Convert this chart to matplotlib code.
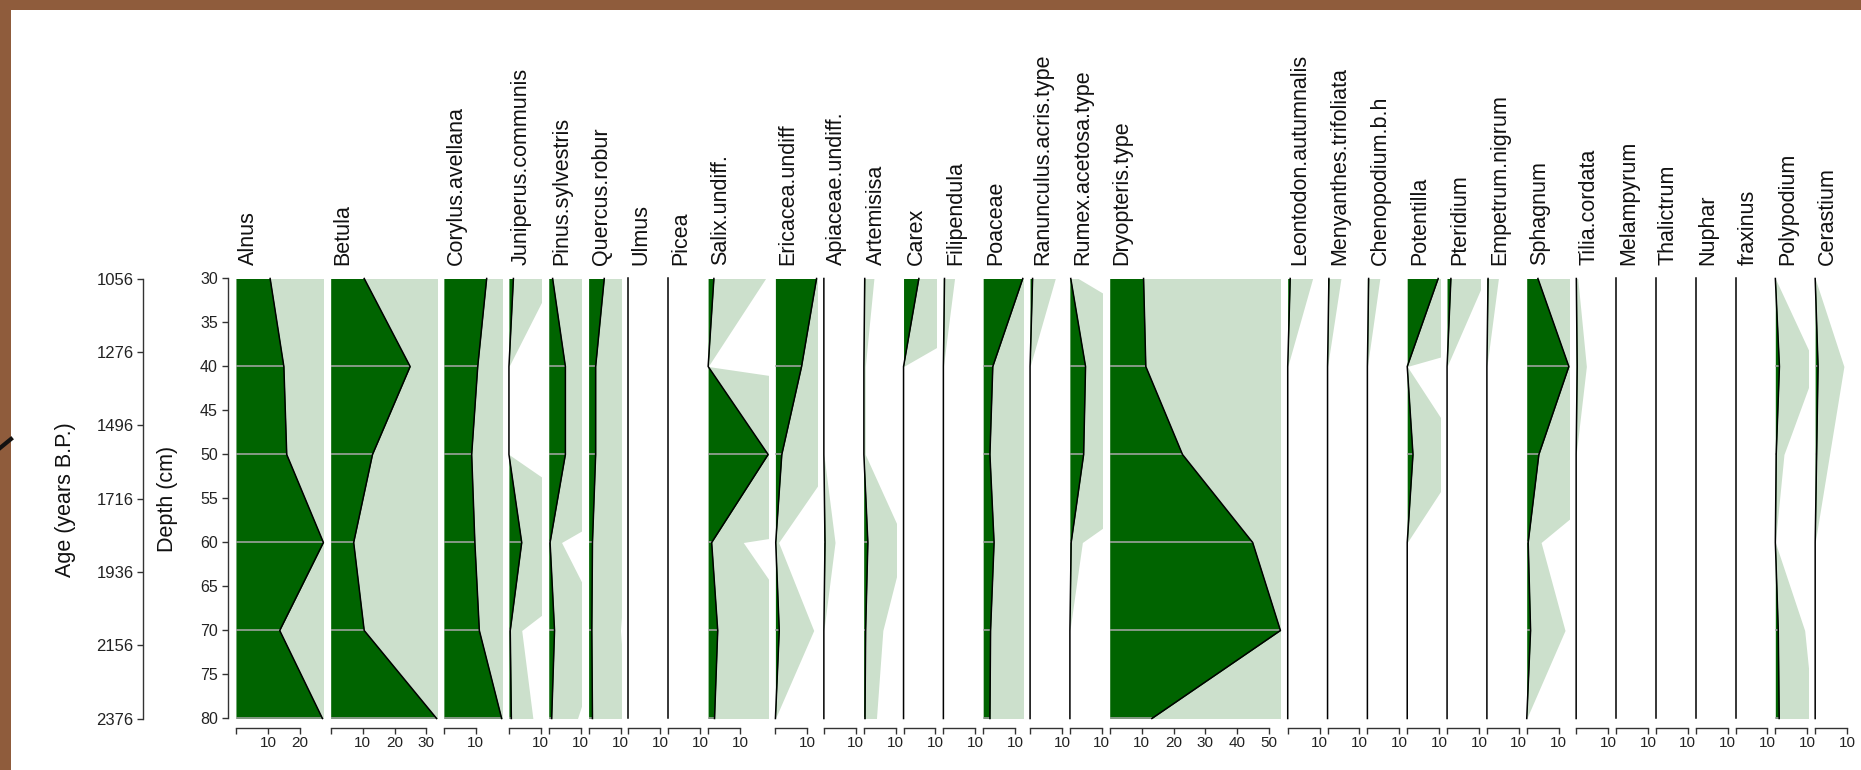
import numpy as np
import matplotlib
matplotlib.use("Agg")
import matplotlib.pyplot as plt
from matplotlib.patches import Rectangle
from matplotlib.lines import Line2D

plt.rcParams['font.family'] = 'Liberation Sans'

# sample depths (cm) and pollen percentages per taxon
depths = [30, 40, 50, 60, 70, 80]

alnus = [10.7, 15.0, 15.9, 27.4, 13.7, 27.1]
betula = [10.5, 24.9, 13.1, 7.2, 10.5, 33.2]
corylus = [13.4, 10.6, 8.7, 9.7, 11.1, 18.1]
juniperus = [1.4, 0, 0, 4.0, 0.4, 0.75]
pinus = [1.2, 5.2, 5.2, 0.4, 1.8, 0.9]
quercus = [4.9, 2.2, 2.2, 1.2, 1.0, 1.2]
ulmus = [0, 0, 0, 0, 0, 0]
picea = [0, 0, 0, 0, 0, 0]
salix = [1.8, 0, 18.8, 1.1, 3.0, 2.0]
ericacea = [12.9, 8.2, 2.0, 0.1, 1.2, 0]
apiaceae = [0, 0, 0, 0.35, 0, 0]
artemisia = [0.32, 0.05, 0.05, 1.3, 0.6, 0.4]
carex = [4.8, 0, 0, 0, 0, 0]
filipendula = [0.35, 0, 0, 0, 0, 0]
poaceae = [12.4, 3.0, 2.1, 3.4, 2.3, 2.1]
ranunculus = [0.79, 0, 0, 0, 0, 0]
rumex = [0.26, 4.9, 4.3, 0.39, 0, 0]
dryopteris = [10.6, 11.3, 22.8, 44.8, 53.5, 13.2]
leontodon = [0.78, 0, 0, 0, 0, 0]
menyanthes = [0.42, 0, 0, 0, 0, 0]
chenopodium = [0.39, 0, 0, 0, 0, 0]
potentilla = [9.7, 0, 1.8, 0, 0, 0]
pteridium = [1.2, 0, 0, 0, 0, 0]
empetrum = [0.36, 0, 0, 0, 0, 0]
sphagnum = [3.5, 13.2, 3.8, 0.45, 1.2, 0]
tilia = [0.05, 0.32, 0, 0, 0, 0]
melampyrum = [0, 0, 0, 0, 0, 0]
thalictrum = [0, 0, 0, 0, 0, 0]
nuphar = [0, 0, 0, 0, 0, 0]
fraxinus = [0, 0, 0, 0, 0, 0]
polypodium = [0, 1.28, 0.27, 0, 0.92, 1.2]
cerastium = [0, 0.9, 0.45, 0, 0, 0]

taxa = ["Alnus", "Betula", "Corylus.avellana", "Juniperus.communis",
        "Pinus.sylvestris", "Quercus.robur", "Ulmus", "Picea", "Salix.undiff.",
        "Ericacea.undiff", "Apiaceae.undiff.", "Artemisisa", "Carex",
        "Filipendula", "Poaceae", "Ranunculus.acris.type", "Rumex.acetosa.type",
        "Dryopteris.type", "Leontodon.autumnalis", "Menyanthes.trifoliata",
        "Chenopodium.b.h", "Potentilla", "Pteridium", "Empetrum.nigrum",
        "Sphagnum", "Tilia.cordata", "Melampyrum", "Thalictrum", "Nuphar",
        "fraxinus", "Polypodium", "Cerastium"]
counts = [alnus, betula, corylus, juniperus, pinus, quercus, ulmus, picea,
          salix, ericacea, apiaceae, artemisia, carex, filipendula, poaceae,
          ranunculus, rumex, dryopteris, leontodon, menyanthes, chenopodium,
          potentilla, pteridium, empetrum, sphagnum, tilia, melampyrum,
          thalictrum, nuphar, fraxinus, polypodium, cerastium]

depth_ticks = [30, 35, 40, 45, 50, 55, 60, 65, 70, 75, 80]
age_ticks = [1056, 1276, 1496, 1716, 1936, 2156, 2376]
exag = 10

W, H = 1861, 770
fig = plt.figure(figsize=(W / 100, H / 100), dpi=100)
fig.patch.set_facecolor('#8f5c3c')
fig.add_artist(Rectangle((11 / W, 0), 1 - 11 / W, 1 - 10 / H,
                         transform=fig.transFigure, facecolor='white',
                         edgecolor='none', zorder=-5))
fig.add_artist(Line2D([0, 11 / W], [1 - 448 / H, 1 - 439 / H],
                      transform=fig.transFigure, color='#111111', lw=3))

dark = '#006400'
light = '#cce0cc'
axis_col = '#333333'
top_px, bot_px = 278.5, 718.5
ax_bottom = 1 - bot_px / H
ax_height = (bot_px - top_px) / H
px_per_unit = 3.19
gap = 7.3
min_width = 10.2
x_px = 236.0

for i, (name, vals) in enumerate(zip(taxa, counts)):
    vals = np.asarray(vals, dtype=float)
    xmax = max(vals.max(), min_width)
    w_px = xmax * px_per_unit
    ax = fig.add_axes([x_px / W, ax_bottom, w_px / W, ax_height])
    ax.patch.set_visible(False)
    ax.set_xlim(0, xmax)
    ax.set_ylim(80, 30)

    # exaggerated curve, then the real curve on top
    ax.fill_betweenx(depths, 0, vals * exag, color=light, lw=0)
    ax.fill_betweenx(depths, 0, vals, color=dark, lw=0)
    ax.hlines(depths, 0, vals, color='#a9a9a9', lw=1.1)
    ax.plot(vals, depths, color='black', lw=1.1, clip_on=False)

    for s in ['top', 'right', 'left']:
        ax.spines[s].set_visible(False)
    last = int(xmax // 10) * 10
    ticks = list(range(0, last + 1, 10))
    ax.spines['bottom'].set_bounds(0, last)
    ax.spines['bottom'].set_position(('outward', 6.8))
    ax.spines['bottom'].set_color(axis_col)
    ax.spines['bottom'].set_linewidth(1.0)
    ax.set_xticks(ticks)
    ax.set_xticklabels(['' if t == 0 else str(t) for t in ticks])
    ax.tick_params(axis='x', direction='out', length=4, width=1.0,
                   colors=axis_col, labelcolor='#222222', labelsize=11, pad=2)

    if i == 0:
        ax.spines['left'].set_visible(True)
        ax.spines['left'].set_position(('outward', 5.8))
        ax.spines['left'].set_color(axis_col)
        ax.spines['left'].set_linewidth(1.0)
        ax.set_yticks(depth_ticks)
        ax.tick_params(axis='y', direction='out', length=4.3, width=1.0,
                       colors=axis_col, labelcolor='#222222', labelsize=11.5, pad=3)
    else:
        ax.set_yticks([])

    fig.text((x_px + 2) / W, 1 - 265 / H, name, rotation=90, ha='left',
             va='bottom', fontsize=15.5, color='#111111')
    x_px += w_px + gap

# age scale alongside the depth axis
ax_age = fig.add_axes([143 / W, ax_bottom, 1e-4, ax_height])
ax_age.patch.set_visible(False)
ax_age.set_ylim(age_ticks[-1], age_ticks[0])
for s in ['top', 'right', 'bottom']:
    ax_age.spines[s].set_visible(False)
ax_age.spines['left'].set_color(axis_col)
ax_age.spines['left'].set_linewidth(1.0)
ax_age.set_xticks([])
ax_age.set_yticks(age_ticks)
ax_age.tick_params(axis='y', direction='out', length=4.3, width=1.0,
                   colors=axis_col, labelcolor='#222222', labelsize=12, pad=2.5)

fig.text(65 / W, 1 - 500 / H, "Age (years B.P.)", rotation=90, ha='center',
         va='center', fontsize=15.5, color='#111111')
fig.text(168 / W, 1 - 499 / H, "Depth (cm)", rotation=90, ha='center',
         va='center', fontsize=15.5, color='#111111')

fig.savefig("out.png", dpi=100, facecolor=fig.get_facecolor())
